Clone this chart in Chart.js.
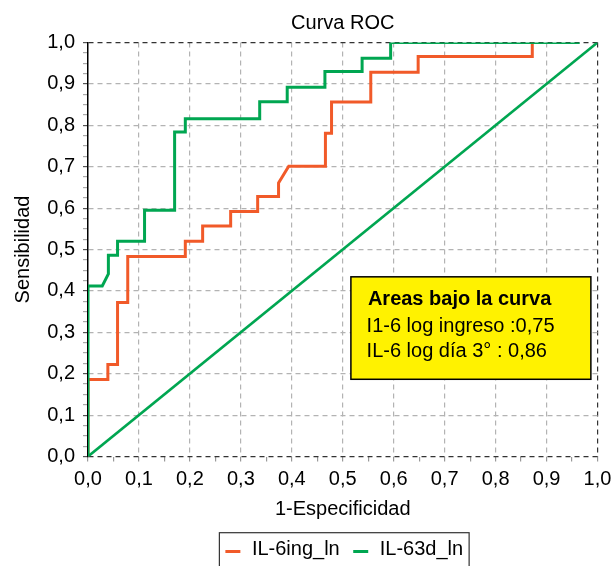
<!DOCTYPE html>
<html>
<head>
<meta charset="utf-8">
<script src="https://cdn.jsdelivr.net/npm/chart.js@4.4.0/dist/chart.umd.min.js"></script>
<style>
  html, body { margin: 0; padding: 0; background: #fff; }
  canvas { display: block; }
</style>
</head>
<body>
<canvas id="rocChart" width="613" height="566"></canvas>
<script>
// Textos del gráfico
const tituloGrafico = 'Curva ROC';
const tituloX = '1-Especificidad';
const tituloY = 'Sensibilidad';
const etiquetasSeries = ['IL-6ing_ln', 'IL-63d_ln'];
const textoAreas = ['Areas bajo la curva', 'I1-6 log ingreso :0,75', 'IL-6 log día 3° : 0,86'];

// IL-6 al ingreso (1-especificidad, sensibilidad)
const ingresoX = [0, 0, 0.039, 0.039, 0.058, 0.058, 0.078, 0.078, 0.191, 0.191, 0.225, 0.225, 0.280, 0.280,
  0.333, 0.333, 0.374, 0.374, 0.394, 0.466, 0.466, 0.478, 0.478, 0.555, 0.555, 0.648, 0.648, 0.872, 0.872];
const ingresoY = [0, 0.186, 0.186, 0.222, 0.222, 0.372, 0.372, 0.483, 0.483, 0.520, 0.520, 0.557, 0.557, 0.592,
  0.592, 0.628, 0.628, 0.661, 0.701, 0.701, 0.781, 0.781, 0.856, 0.856, 0.928, 0.928, 0.966, 0.966, 1.0];

// IL-6 día 3
const dia3X = [0, 0, 0.028, 0.040, 0.040, 0.058, 0.058, 0.111, 0.111, 0.170, 0.170, 0.191, 0.191, 0.337,
  0.337, 0.391, 0.391, 0.465, 0.465, 0.538, 0.538, 0.594, 0.594, 0.965];
const dia3Y = [0, 0.412, 0.412, 0.441, 0.486, 0.486, 0.520, 0.520, 0.595, 0.595, 0.784, 0.784, 0.816, 0.816,
  0.857, 0.857, 0.892, 0.892, 0.930, 0.930, 0.962, 0.962, 1.0, 1.0];

// Línea de referencia
const referenciaX = [0, 1];
const referenciaY = [0, 1];

const ROJO = '#f15a29';
const VERDE = '#00a651';
const FUENTE = '"Liberation Sans", Arial, Helvetica, sans-serif';

Chart.defaults.font.family = FUENTE;
Chart.defaults.font.size = 20;
Chart.defaults.color = '#000';

function puntos(xs, ys) {
    return xs.map((x, i) => ({ x: x, y: ys[i] }));
}

function esDecima(v) {
    return Math.abs(v * 10 - Math.round(v * 10)) < 1e-6;
}

function formato(v) {
    return esDecima(v) ? v.toFixed(1).replace('.', ',') : '';
}

function colorRejilla(v, ocultarCero) {
    if (!esDecima(v)) return 'rgba(0,0,0,0)';
    if (Math.abs(v) < 1e-6) return ocultarCero ? 'rgba(0,0,0,0)' : '#333';
    if (Math.abs(v - 1) < 1e-6) return '#333';
    return '#b3b3b3';
}

// Recuadro amarillo con las áreas
const cajaAreas = {
    id: 'cajaAreas',
    afterDatasetsDraw(chart) {
        const { ctx, scales: { x, y } } = chart;
        const left = x.getPixelForValue(0.516);
        const right = x.getPixelForValue(0.987);
        const top = y.getPixelForValue(0.434);
        const bottom = y.getPixelForValue(0.1865);
        ctx.save();
        ctx.fillStyle = '#fff200';
        ctx.fillRect(left, top, right - left, bottom - top);
        ctx.lineWidth = 1.5;
        ctx.strokeStyle = '#000';
        ctx.strokeRect(left, top, right - left, bottom - top);
        ctx.fillStyle = '#000';
        ctx.textBaseline = 'alphabetic';
        ctx.font = 'bold 20px ' + FUENTE;
        ctx.fillText(textoAreas[0], left + 17, top + 28.3);
        ctx.font = '20px ' + FUENTE;
        ctx.fillText(textoAreas[1], left + 15.7, top + 55);
        ctx.fillText(textoAreas[2], left + 15.7, top + 80);
        ctx.restore();
    }
};

// Leyenda con marco, centrada bajo el área del gráfico
const leyendaCaja = {
    id: 'leyendaCaja',
    afterDraw(chart) {
        const { ctx, chartArea } = chart;
        const items = chart.data.datasets.filter(d => d.label);
        const marca = 15, hueco = 11.5, entre = 13.5, margen = 6;
        ctx.save();
        ctx.font = '20px ' + FUENTE;
        let ancho = margen * 2;
        items.forEach((d, i) => {
            ancho += marca + hueco + ctx.measureText(d.label).width + (i ? entre : 0);
        });
        const cx = (chartArea.left + chartArea.right) / 2 + 1.5;
        const top = chart.height - 33.3;
        let x = cx - ancho / 2;
        ctx.strokeStyle = '#333';
        ctx.lineWidth = 1.2;
        ctx.strokeRect(x, top, ancho, 60);
        x += margen;
        ctx.textBaseline = 'middle';
        items.forEach((d) => {
            ctx.strokeStyle = d.borderColor;
            ctx.lineWidth = 3;
            ctx.beginPath();
            ctx.moveTo(x, top + 18.8);
            ctx.lineTo(x + marca, top + 18.8);
            ctx.stroke();
            x += marca + hueco;
            ctx.fillStyle = '#000';
            ctx.fillText(d.label, x, top + 17);
            x += ctx.measureText(d.label).width + entre;
        });
        ctx.restore();
    }
};

const ctx = document.getElementById('rocChart').getContext('2d');

new Chart(ctx, {
    type: 'line',
    data: {
        datasets: [
            { label: etiquetasSeries[0], data: puntos(ingresoX, ingresoY), borderColor: ROJO, order: 2 },
            { label: etiquetasSeries[1], data: puntos(dia3X, dia3Y), borderColor: VERDE, order: 1 },
            { label: '', data: puntos(referenciaX, referenciaY), borderColor: VERDE, borderWidth: 2.6, order: 1 }
        ]
    },
    options: {
        responsive: false,
        animation: false,
        layout: { padding: { left: 0, right: 15.5, top: 0, bottom: 44.3 } },
        elements: {
            line: { borderWidth: 3, tension: 0, fill: false },
            point: { radius: 0, hoverRadius: 0 }
        },
        plugins: {
            legend: { display: false },
            tooltip: { enabled: false },
            title: {
                display: true,
                fullSize: false,
                text: tituloGrafico,
                font: { size: 20, weight: 'normal' },
                color: '#000',
                padding: { top: 11, bottom: 7.5 }
            }
        },
        scales: {
            x: {
                type: 'linear',
                position: 'bottom',
                min: 0,
                max: 1,
                ticks: {
                    stepSize: 0.05,
                    autoSkip: false,
                    maxRotation: 0,
                    padding: 6,
                    callback: formato
                },
                grid: {
                    color: c => colorRejilla(c.tick.value, true),
                    lineWidth: 1.2,
                    tickLength: 5,
                    tickColor: '#999'
                },
                border: { display: false, dash: [5, 4] },
                title: { display: true, text: tituloX, padding: { top: 0, bottom: 0 } },
                afterFit: s => {
                    s.height = 65.2;
                    s.paddingLeft = 0;
                    s.paddingRight = 0;
                }
            },
            y: {
                type: 'linear',
                min: 0,
                max: 1,
                ticks: {
                    stepSize: 0.025,
                    autoSkip: false,
                    padding: 8,
                    callback: formato
                },
                grid: {
                    color: c => colorRejilla(c.tick.value, false),
                    lineWidth: 1.2,
                    tickLength: 5,
                    tickColor: c => esDecima(c.tick.value) ? '#555' : '#aaa'
                },
                border: { display: true, color: '#000', width: 1.5, dash: [5, 4] },
                title: { display: true, text: tituloY, padding: { top: 11.5, bottom: 0 } },
                afterFit: s => { s.width = 88; }
            }
        }
    },
    plugins: [cajaAreas, leyendaCaja]
});
</script>
</body>
</html>
